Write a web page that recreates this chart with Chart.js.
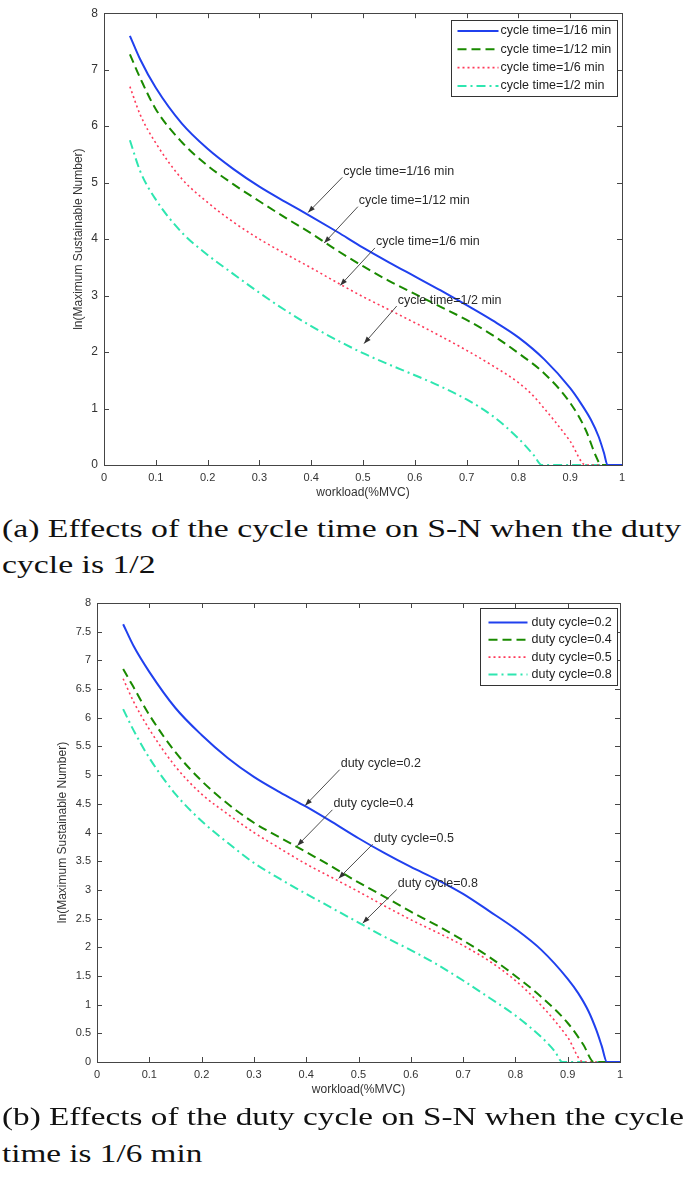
<!doctype html>
<html lang="en">
<head>
<meta charset="utf-8">
<title>S-N curves</title>
<script src="https://cdn.jsdelivr.net/npm/chart.js@4.4.1/dist/chart.umd.min.js"></script>
<style>
  body { margin: 0; background: #fff; width: 685px; height: 1179px; position: relative; overflow: hidden; }
  canvas { position: absolute; left: 0; }
  #chartA { top: 0; }
  #chartB { top: 590px; }
  .cap { position: absolute; left: 2px; font-family: "Liberation Serif", "Times New Roman", serif;
         font-size: 26px; line-height: 36px; color: #111; white-space: nowrap; transform-origin: 0 0; }
</style>
</head>
<body>
<canvas id="chartA" width="685" height="505"></canvas>
<canvas id="chartB" width="685" height="510"></canvas>
<div class="cap" id="capA1" style="top:511px">(a) Effects of the cycle time on S-N when the duty</div>
<div class="cap" id="capA2" style="top:547px">cycle is 1/2</div>
<div class="cap" id="capB1" style="top:1099px">(b) Effects of the duty cycle on S-N when the cycle</div>
<div class="cap" id="capB2" style="top:1136px">time is 1/6 min</div>
<script>
// ---- chart (a): cycle time, duty cycle 1/2 ----
const xA16 = [0.05, 0.07, 0.1, 0.15, 0.2, 0.25, 0.3, 0.35, 0.4, 0.45, 0.5, 0.55, 0.6, 0.65, 0.7, 0.75, 0.8, 0.85, 0.9, 0.92, 0.94, 0.955, 0.965, 0.972, 1];
const yA16 = [7.6, 7.18, 6.68, 6.05, 5.6, 5.24, 4.93, 4.66, 4.4, 4.13, 3.85, 3.59, 3.34, 3.09, 2.83, 2.56, 2.26, 1.87, 1.36, 1.1, 0.8, 0.5, 0.22, 0, 0];
const xA12 = [0.05, 0.07, 0.1, 0.15, 0.2, 0.25, 0.3, 0.35, 0.4, 0.45, 0.5, 0.55, 0.6, 0.65, 0.7, 0.75, 0.8, 0.85, 0.9, 0.93, 0.95, 0.96, 1];
const yA12 = [7.27, 6.85, 6.3, 5.72, 5.3, 4.97, 4.67, 4.38, 4.1, 3.8, 3.52, 3.26, 3.03, 2.8, 2.57, 2.3, 1.98, 1.62, 1.1, 0.62, 0.15, 0, 0];
const xA6 = [0.05, 0.07, 0.1, 0.15, 0.2, 0.25, 0.3, 0.35, 0.4, 0.45, 0.5, 0.55, 0.6, 0.65, 0.7, 0.75, 0.8, 0.825, 0.85, 0.875, 0.9, 0.93, 1];
const yA6 = [6.7, 6.2, 5.7, 5.07, 4.65, 4.3, 4.0, 3.74, 3.49, 3.23, 2.98, 2.75, 2.52, 2.28, 2.03, 1.76, 1.46, 1.26, 1.0, 0.72, 0.42, 0, 0];
const xA2 = [0.05, 0.07, 0.1, 0.15, 0.2, 0.25, 0.3, 0.35, 0.4, 0.45, 0.5, 0.55, 0.6, 0.65, 0.7, 0.75, 0.8, 0.83, 0.845, 1];
const yA2 = [5.75, 5.2, 4.7, 4.12, 3.72, 3.38, 3.05, 2.74, 2.46, 2.21, 1.98, 1.78, 1.59, 1.39, 1.16, 0.87, 0.47, 0.17, 0, 0];
const labelsA = ['cycle time=1/16 min', 'cycle time=1/12 min', 'cycle time=1/6 min', 'cycle time=1/2 min'];

// ---- chart (b): duty cycle, cycle time 1/6 min ----
const xB2 = [0.05, 0.07, 0.1, 0.15, 0.2, 0.25, 0.3, 0.35, 0.4, 0.45, 0.5, 0.55, 0.6, 0.65, 0.7, 0.75, 0.8, 0.85, 0.9, 0.92, 0.94, 0.955, 0.965, 0.975, 1];
const yB2 = [7.63, 7.25, 6.8, 6.17, 5.7, 5.3, 4.97, 4.7, 4.45, 4.18, 3.9, 3.64, 3.4, 3.18, 2.93, 2.63, 2.32, 1.95, 1.45, 1.2, 0.88, 0.55, 0.28, 0, 0];
const xB4 = [0.05, 0.07, 0.1, 0.15, 0.2, 0.25, 0.3, 0.35, 0.4, 0.45, 0.5, 0.55, 0.6, 0.65, 0.7, 0.75, 0.8, 0.85, 0.9, 0.93, 0.95, 1];
const yB4 = [6.85, 6.53, 6.05, 5.4, 4.9, 4.5, 4.17, 3.91, 3.66, 3.4, 3.13, 2.88, 2.62, 2.38, 2.12, 1.83, 1.5, 1.13, 0.68, 0.3, 0, 0];
const xB5 = [0.05, 0.07, 0.1, 0.15, 0.2, 0.25, 0.3, 0.35, 0.4, 0.45, 0.5, 0.55, 0.6, 0.65, 0.7, 0.75, 0.8, 0.85, 0.9, 0.93, 1];
const yB5 = [6.68, 6.28, 5.8, 5.15, 4.67, 4.32, 4.0, 3.72, 3.45, 3.21, 2.97, 2.72, 2.48, 2.26, 2.03, 1.76, 1.42, 0.98, 0.43, 0, 0];
const xB8 = [0.05, 0.07, 0.1, 0.15, 0.2, 0.25, 0.3, 0.35, 0.4, 0.45, 0.5, 0.55, 0.6, 0.65, 0.7, 0.75, 0.8, 0.85, 0.875, 0.89, 1];
const yB8 = [6.15, 5.78, 5.3, 4.67, 4.2, 3.82, 3.47, 3.19, 2.93, 2.68, 2.43, 2.18, 1.95, 1.7, 1.42, 1.12, 0.81, 0.43, 0.19, 0, 0];
const labelsB = ['duty cycle=0.2', 'duty cycle=0.4', 'duty cycle=0.5', 'duty cycle=0.8'];

// ticks
const xTicks = [0, 0.1, 0.2, 0.3, 0.4, 0.5, 0.6, 0.7, 0.8, 0.9, 1];
const xTickLabels = ['0', '0.1', '0.2', '0.3', '0.4', '0.5', '0.6', '0.7', '0.8', '0.9', '1'];
const yTicksA = [0, 1, 2, 3, 4, 5, 6, 7, 8];
const yTickLabelsA = ['0', '1', '2', '3', '4', '5', '6', '7', '8'];
const yTicksB = [0, 0.5, 1, 1.5, 2, 2.5, 3, 3.5, 4, 4.5, 5, 5.5, 6, 6.5, 7, 7.5, 8];
const yTickLabelsB = ['0', '0.5', '1', '1.5', '2', '2.5', '3', '3.5', '4', '4.5', '5', '5.5', '6', '6.5', '7', '7.5', '8'];

// arrow annotations (data units): label left/centre, arrow tip
const noteTextA = labelsA;
const noteXA = [0.462, 0.492, 0.525, 0.567];
const noteYA = [5.2, 4.68, 3.95, 2.92];
const tipXA = [0.394, 0.425, 0.456, 0.502];
const tipYA = [4.47, 3.93, 3.18, 2.15];
const noteTextB = labelsB;
const noteXB = [0.466, 0.452, 0.529, 0.575];
const noteYB = [5.2, 4.5, 3.9, 3.11];
const tipXB = [0.398, 0.383, 0.462, 0.508];
const tipYB = [4.47, 3.77, 3.2, 2.42];

const SANS = '"Liberation Sans", Arial, sans-serif';
Chart.defaults.font.family = SANS;

const styles = [
  { color: '#2040ee', dash: [], width: 2 },
  { color: '#1a8a00', dash: [9, 5], width: 2 },
  { color: '#ff3a5a', dash: [2, 3], width: 1.6 },
  { color: '#2ee6b0', dash: [9, 4, 2, 4], width: 2 }
];

function pts(xs, ys) { return xs.map((x, i) => ({ x: x, y: ys[i] })); }

function makeSets(series, labels) {
  return series.map((s, i) => ({
    label: labels[i],
    data: pts(s[0], s[1]),
    borderColor: styles[i].color,
    borderDash: styles[i].dash,
    borderWidth: styles[i].width,
    pointRadius: 0,
    fill: false,
    cubicInterpolationMode: 'monotone'
  }));
}

// box + inward tick marks like the original figure
const frame = {
  id: 'frame',
  beforeDatasetsDraw(chart) {
    const { ctx, chartArea: a, scales: { x, y } } = chart;
    ctx.save();
    ctx.strokeStyle = '#454545';
    ctx.lineWidth = 1;
    ctx.strokeRect(Math.round(a.left) + 0.5, Math.round(a.top) + 0.5, Math.round(a.right - a.left), Math.round(a.bottom - a.top));
    ctx.beginPath();
    x.ticks.forEach(t => {
      const px = Math.round(x.getPixelForValue(t.value)) + 0.5;
      ctx.moveTo(px, a.bottom); ctx.lineTo(px, a.bottom - 5);
      ctx.moveTo(px, a.top); ctx.lineTo(px, a.top + 5);
    });
    y.ticks.forEach(t => {
      const py = Math.round(y.getPixelForValue(t.value)) + 0.5;
      ctx.moveTo(a.left, py); ctx.lineTo(a.left + 5, py);
      ctx.moveTo(a.right, py); ctx.lineTo(a.right - 5, py);
    });
    ctx.stroke();
    ctx.restore();
  }
};

const boxLegend = {
  id: 'boxLegend',
  afterDatasetsDraw(chart, args, o) {
    const { ctx, chartArea: a } = chart;
    const sets = chart.data.datasets;
    ctx.save();
    ctx.font = o.size + 'px ' + SANS;
    const tw = Math.max(...sets.map(d => ctx.measureText(d.label).width));
    const w = o.padL + o.sample + o.gap + tw + o.padR;
    const h = o.rowTop + o.pitch * (sets.length - 1) + o.rowBottom;
    const left = Math.round(a.right - o.right - w) + 0.5;
    const top = Math.round(a.top + o.top) + 0.5;
    ctx.fillStyle = '#fff';
    ctx.fillRect(left, top, w, h);
    ctx.strokeStyle = '#333';
    ctx.lineWidth = 1;
    ctx.strokeRect(left, top, Math.round(w), Math.round(h));
    sets.forEach((d, i) => {
      const yy = top + o.rowTop + i * o.pitch;
      ctx.beginPath();
      ctx.strokeStyle = d.borderColor;
      ctx.lineWidth = d.borderWidth;
      ctx.setLineDash(d.borderDash);
      ctx.moveTo(left + o.padL, yy);
      ctx.lineTo(left + o.padL + o.sample, yy);
      ctx.stroke();
      ctx.setLineDash([]);
      ctx.fillStyle = '#222';
      ctx.textBaseline = 'middle';
      ctx.textAlign = 'left';
      ctx.fillText(d.label, left + o.padL + o.sample + o.gap, yy);
    });
    ctx.restore();
  }
};

const arrows = {
  id: 'arrows',
  afterDatasetsDraw(chart, args, o) {
    const { ctx, scales: { x, y } } = chart;
    ctx.save();
    ctx.font = o.size + 'px ' + SANS;
    o.text.forEach((txt, i) => {
      const lx = x.getPixelForValue(o.lx[i]);
      const ly = y.getPixelForValue(o.ly[i]);
      const sx = lx - 1, sy = ly + 6;
      const ex = x.getPixelForValue(o.tx[i]);
      const ey = y.getPixelForValue(o.ty[i]);
      ctx.fillStyle = '#2a2a2a';
      ctx.textBaseline = 'middle';
      ctx.textAlign = 'left';
      ctx.fillText(txt, lx, ly);
      ctx.strokeStyle = '#3a3a3a';
      ctx.lineWidth = 0.9;
      ctx.beginPath();
      ctx.moveTo(sx, sy);
      ctx.lineTo(ex, ey);
      ctx.stroke();
      const ang = Math.atan2(ey - sy, ex - sx);
      const L = 7, W = 2.6;
      ctx.beginPath();
      ctx.moveTo(ex, ey);
      ctx.lineTo(ex - L * Math.cos(ang) + W * Math.sin(ang), ey - L * Math.sin(ang) - W * Math.cos(ang));
      ctx.lineTo(ex - L * Math.cos(ang) - W * Math.sin(ang), ey - L * Math.sin(ang) + W * Math.cos(ang));
      ctx.closePath();
      ctx.fillStyle = '#333';
      ctx.fill();
    });
    ctx.restore();
  }
};

function axisX(height, titlePadBottom) {
  return {
    type: 'linear', min: 0, max: 1,
    afterBuildTicks: s => { s.ticks = xTicks.map(v => ({ value: v })); },
    afterFit: s => { s.height = height; },
    ticks: { callback: (v, i) => xTickLabels[i], font: { size: 11 }, color: '#333', padding: 6, maxRotation: 0, autoSkip: false },
    grid: { display: false, drawTicks: false },
    border: { display: false },
    title: { display: true, text: 'workload(%MVC)', font: { size: 12 }, color: '#333', padding: { top: 0, bottom: titlePadBottom } }
  };
}

function axisY(width, ticks, labels, size) {
  return {
    type: 'linear', min: 0, max: 8,
    afterBuildTicks: s => { s.ticks = ticks.map(v => ({ value: v })); },
    afterFit: s => { s.width = width; },
    ticks: { callback: (v, i) => labels[i], font: { size: size }, color: '#333', padding: 6, autoSkip: false },
    grid: { display: false, drawTicks: false },
    border: { display: false },
    title: { display: true, text: 'ln(Maximum Sustainable Number)', font: { size: 12 }, color: '#333', padding: { top: 7, bottom: 0 } }
  };
}

new Chart(document.getElementById('chartA'), {
  type: 'line',
  data: { datasets: makeSets([[xA16, yA16], [xA12, yA12], [xA6, yA6], [xA2, yA2]], labelsA) },
  options: {
    responsive: false, animation: false, events: [],
    layout: { padding: { left: 64, right: 63, top: 6, bottom: 0 } },
    scales: { x: axisX(40, 5), y: axisY(40, yTicksA, yTickLabelsA, 12) },
    plugins: {
      legend: { display: false }, tooltip: { enabled: false },
      boxLegend: { size: 12.5, padL: 6, sample: 41, gap: 2, padR: 6, rowTop: 10.5, pitch: 18.3, rowBottom: 11, right: 5, top: 7 },
      arrows: { size: 12.5, text: noteTextA, lx: noteXA, ly: noteYA, tx: tipXA, ty: tipYA }
    }
  },
  plugins: [frame, boxLegend, arrows]
});

new Chart(document.getElementById('chartB'), {
  type: 'line',
  data: { datasets: makeSets([[xB2, yB2], [xB4, yB4], [xB5, yB5], [xB8, yB8]], labelsB) },
  options: {
    responsive: false, animation: false, events: [],
    layout: { padding: { left: 48, right: 65, top: 13, bottom: 0 } },
    scales: { x: axisX(38, 3), y: axisY(49, yTicksB, yTickLabelsB, 11) },
    plugins: {
      legend: { display: false }, tooltip: { enabled: false },
      boxLegend: { size: 12.5, padL: 8, sample: 39, gap: 4, padR: 6, rowTop: 14, pitch: 17.3, rowBottom: 11, right: 3, top: 5 },
      arrows: { size: 12.5, text: noteTextB, lx: noteXB, ly: noteYB, tx: tipXB, ty: tipYB }
    }
  },
  plugins: [frame, boxLegend, arrows]
});

// stretch the serif captions to the width of the original typeset lines
function fitCaption(first, ids, target) {
  const k = target / document.getElementById(first).getBoundingClientRect().width;
  ids.forEach(id => { document.getElementById(id).style.transform = 'scaleX(' + k + ')'; });
}
fitCaption('capA1', ['capA1', 'capA2'], 679);
fitCaption('capB1', ['capB1', 'capB2'], 682);
</script>
</body>
</html>
